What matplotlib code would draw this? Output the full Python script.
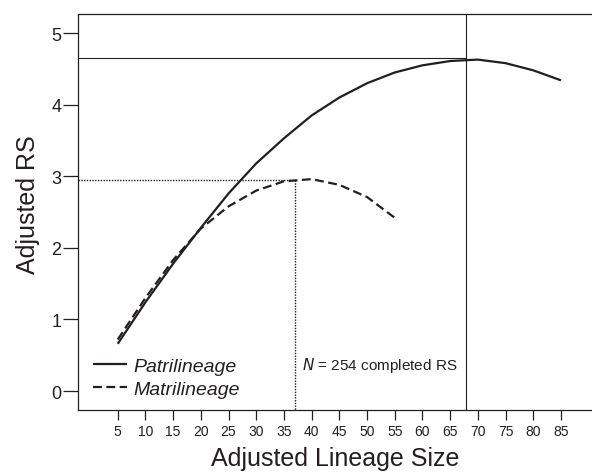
"""Adjusted RS against adjusted lineage size, patrilineage vs matrilineage."""

import matplotlib
matplotlib.use("Agg")
import matplotlib.pyplot as plt

plt.rcParams["font.family"] = ["Liberation Sans", "DejaVu Sans"]

INK = "#231f20"

# lineage sizes and fitted RS
patri_size = [5, 10, 15, 20, 25, 30, 35, 40, 45, 50, 55, 60, 65, 70, 75, 80, 85]
patri_rs = [0.66, 1.24, 1.78, 2.28, 2.76, 3.18, 3.53, 3.85, 4.10, 4.30, 4.45,
            4.55, 4.61, 4.63, 4.58, 4.48, 4.34]

matri_size = [5, 10, 15, 20, 25, 30, 35, 40, 45, 50, 55]
matri_rs = [0.72, 1.30, 1.83, 2.27, 2.58, 2.80, 2.93, 2.96, 2.88, 2.71, 2.42]

# optima marked with guide lines
patri_peak = (67.8, 4.65)
matri_peak = (37.0, 2.95)

x_ticks = list(range(5, 90, 5))
y_ticks = [0, 1, 2, 3, 4, 5]

fig = plt.figure(figsize=(5.92, 4.77), dpi=100)
ax = fig.add_axes([0.1318, 0.1384, 0.8682, 0.8306])

ax.plot(patri_size, patri_rs, color=INK, lw=1.6, solid_capstyle="butt",
        label="Patrilineage")
ax.plot(matri_size, matri_rs, color=INK, lw=1.6, linestyle=(0, (4, 2)),
        label="Matrilineage")

# guide lines to the maxima
ax.plot([-2.2, patri_peak[0]], [patri_peak[1]] * 2, color=INK, lw=0.8)
ax.plot([patri_peak[0]] * 2, [-0.3, 5.4], color=INK, lw=0.8)
ax.plot([-2.2, matri_peak[0]], [matri_peak[1]] * 2, color=INK, lw=1.0,
        linestyle=(0, (1, 1)))
ax.plot([matri_peak[0]] * 2, [-0.3, matri_peak[1]], color=INK, lw=1.0,
        linestyle=(0, (1, 1)))

ax.set_xlim(-2.17, 90.6)
ax.set_ylim(-0.265, 5.27)

ax.set_xticks(x_ticks)
ax.set_xticklabels([str(v) for v in x_ticks])
ax.set_yticks(y_ticks)
ax.tick_params(axis="x", direction="out", length=7, width=0.9, pad=3,
               labelsize=10, colors=INK)
ax.tick_params(axis="y", direction="out", length=11, width=0.9, pad=1,
               labelsize=13, colors=INK)

for side in ["left", "bottom", "top"]:
    ax.spines[side].set_color(INK)
    ax.spines[side].set_linewidth(0.9)
ax.spines["right"].set_visible(False)

ax.set_xlabel("Adjusted Lineage Size", fontsize=18, color=INK, labelpad=6)
ax.set_ylabel("Adjusted RS", fontsize=18, color=INK)
ax.yaxis.set_label_coords(-0.074, 0.52)

ax.text(38.2, 0.37, "$N$ = 254 completed RS", fontsize=11, color=INK,
        ha="left", va="center")

leg = ax.legend(loc="lower left", bbox_to_anchor=(0.029, 0.03), frameon=False,
                handlelength=1.75, handletextpad=0.35, labelspacing=0.3,
                borderaxespad=0.0, borderpad=0.0,
                prop={"style": "italic", "size": 14})
for t in leg.get_texts():
    t.set_color(INK)

fig.savefig("out.png", dpi=100)
